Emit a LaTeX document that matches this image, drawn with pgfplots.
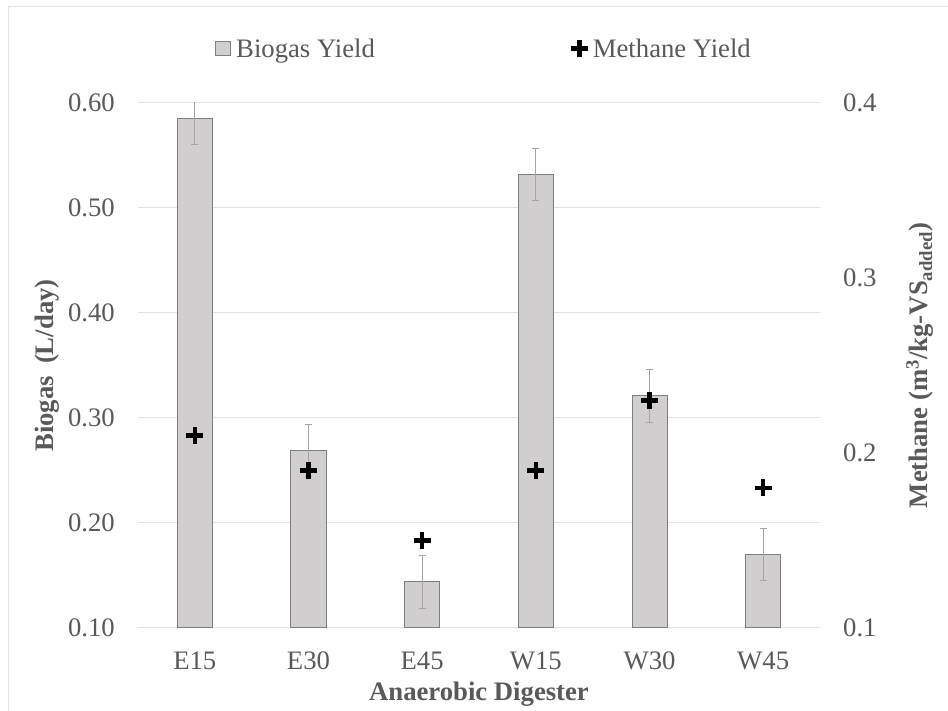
\documentclass[border=0pt]{standalone}
\usepackage{pgfplots}
\pgfplotsset{compat=1.18}
\usepackage{pgfplotstable}
\usepackage{fontspec}
\setmainfont{Liberation Serif}
\definecolor{txt}{HTML}{595959}
\definecolor{gridc}{HTML}{E2E2E2}
\definecolor{barfill}{HTML}{D0CECE}
\definecolor{baredge}{HTML}{7F7F7F}
\definecolor{errc}{HTML}{A5A5A5}

\pgfplotstableread{
x y err
0 0.585 0.025
1 0.269 0.025
2 0.144 0.025
3 0.532 0.025
4 0.321 0.025
5 0.170 0.025
}\biogas

\pgfplotstableread{
x y
0 0.21
1 0.19
2 0.15
3 0.19
4 0.23
5 0.18
}\methane

\newcommand{\fnt}{\fontsize{26.7}{32}\selectfont}

\begin{document}
\begin{tikzpicture}[x=1pt,y=1pt]
\useasboundingbox (0,0) rectangle (948,711);
\draw[gridc, line width=1.7pt] (8.5,-20) -- (8.5,704.5) -- (980,704.5);
\pgfplotsset{common/.style={
  scale only axis, width=682pt, height=525pt,
  at={(138pt,83pt)}, anchor=south west,
  xmin=-0.5, xmax=5.5,
  /pgf/number format/assume math mode=true,
  every tick label/.append style={font=\fnt, text=txt, inner sep=0pt},
  major tick length=0pt,
  axis line style={draw=none},
}}
\begin{axis}[common,
  ymin=0.1, ymax=0.6, ytick={0.1,0.2,0.3,0.4,0.5,0.6},
  yticklabel style={/pgf/number format/fixed, /pgf/number format/fixed zerofill, /pgf/number format/precision=2, anchor=east, xshift=-23pt},
  xtick={0,1,2,3,4,5}, xticklabels={E15,E30,E45,W15,W30,W45},
  xticklabel style={anchor=north, yshift=-24pt},
  ymajorgrids, grid style={gridc, line width=1pt},
  xlabel={Anaerobic Digester},
  ylabel={Biogas\hspace{0.45em}(L/day)},
  every axis x label/.style={at={(axis description cs:0.5,-0.1257)}, anchor=center, font=\bfseries\fnt, text=txt},
  every axis y label/.style={at={(axis description cs:-0.1334,0.5)}, anchor=center, rotate=90, font=\bfseries\fnt, text=txt},
]
\addplot[ybar, bar width=35pt, fill=barfill, draw=baredge, line width=1pt,
  error bars/.cd, y dir=both, y explicit,
  error bar style={errc, line width=1pt},
  error mark options={errc, rotate=90, mark size=3.5pt, line width=1pt}]
  table[x=x, y=y, y error=err]{\biogas};
\end{axis}
\begin{axis}[common,
  ymin=0.1, ymax=0.4, ytick={0.1,0.2,0.3,0.4},
  yticklabel pos=right,
  yticklabel style={/pgf/number format/fixed, /pgf/number format/fixed zerofill, /pgf/number format/precision=1, anchor=west, xshift=23pt},
  xtick=\empty,
  ylabel={Methane (m\textsuperscript{3}/kg-VS\textsubscript{added})},
  every axis y label/.style={at={(axis description cs:1.1466,0.5)}, anchor=center, rotate=90, font=\bfseries\fnt, text=txt},
  legend columns=2,
  legend style={at={(axis description cs:0.1129,1.1038)}, anchor=west, draw=none, fill=none,
    inner sep=0pt, font=\fnt, text=txt,
    nodes={inner sep=0pt},
    /tikz/every odd column/.append style={column sep=5pt},
    /tikz/every even column/.append style={column sep=196pt}},
]
\addlegendimage{legend image code/.code={\draw[fill=barfill, draw=baredge, line width=1pt] (0pt,-7pt) rectangle (15pt,7pt);}}
\addlegendentry{Biogas Yield}
\addplot[only marks, mark=+, mark size=8.5pt, line width=4.6pt, black] table[x=x, y=y]{\methane};
\addlegendentry{Methane Yield}
\end{axis}
\end{tikzpicture}
\end{document}
